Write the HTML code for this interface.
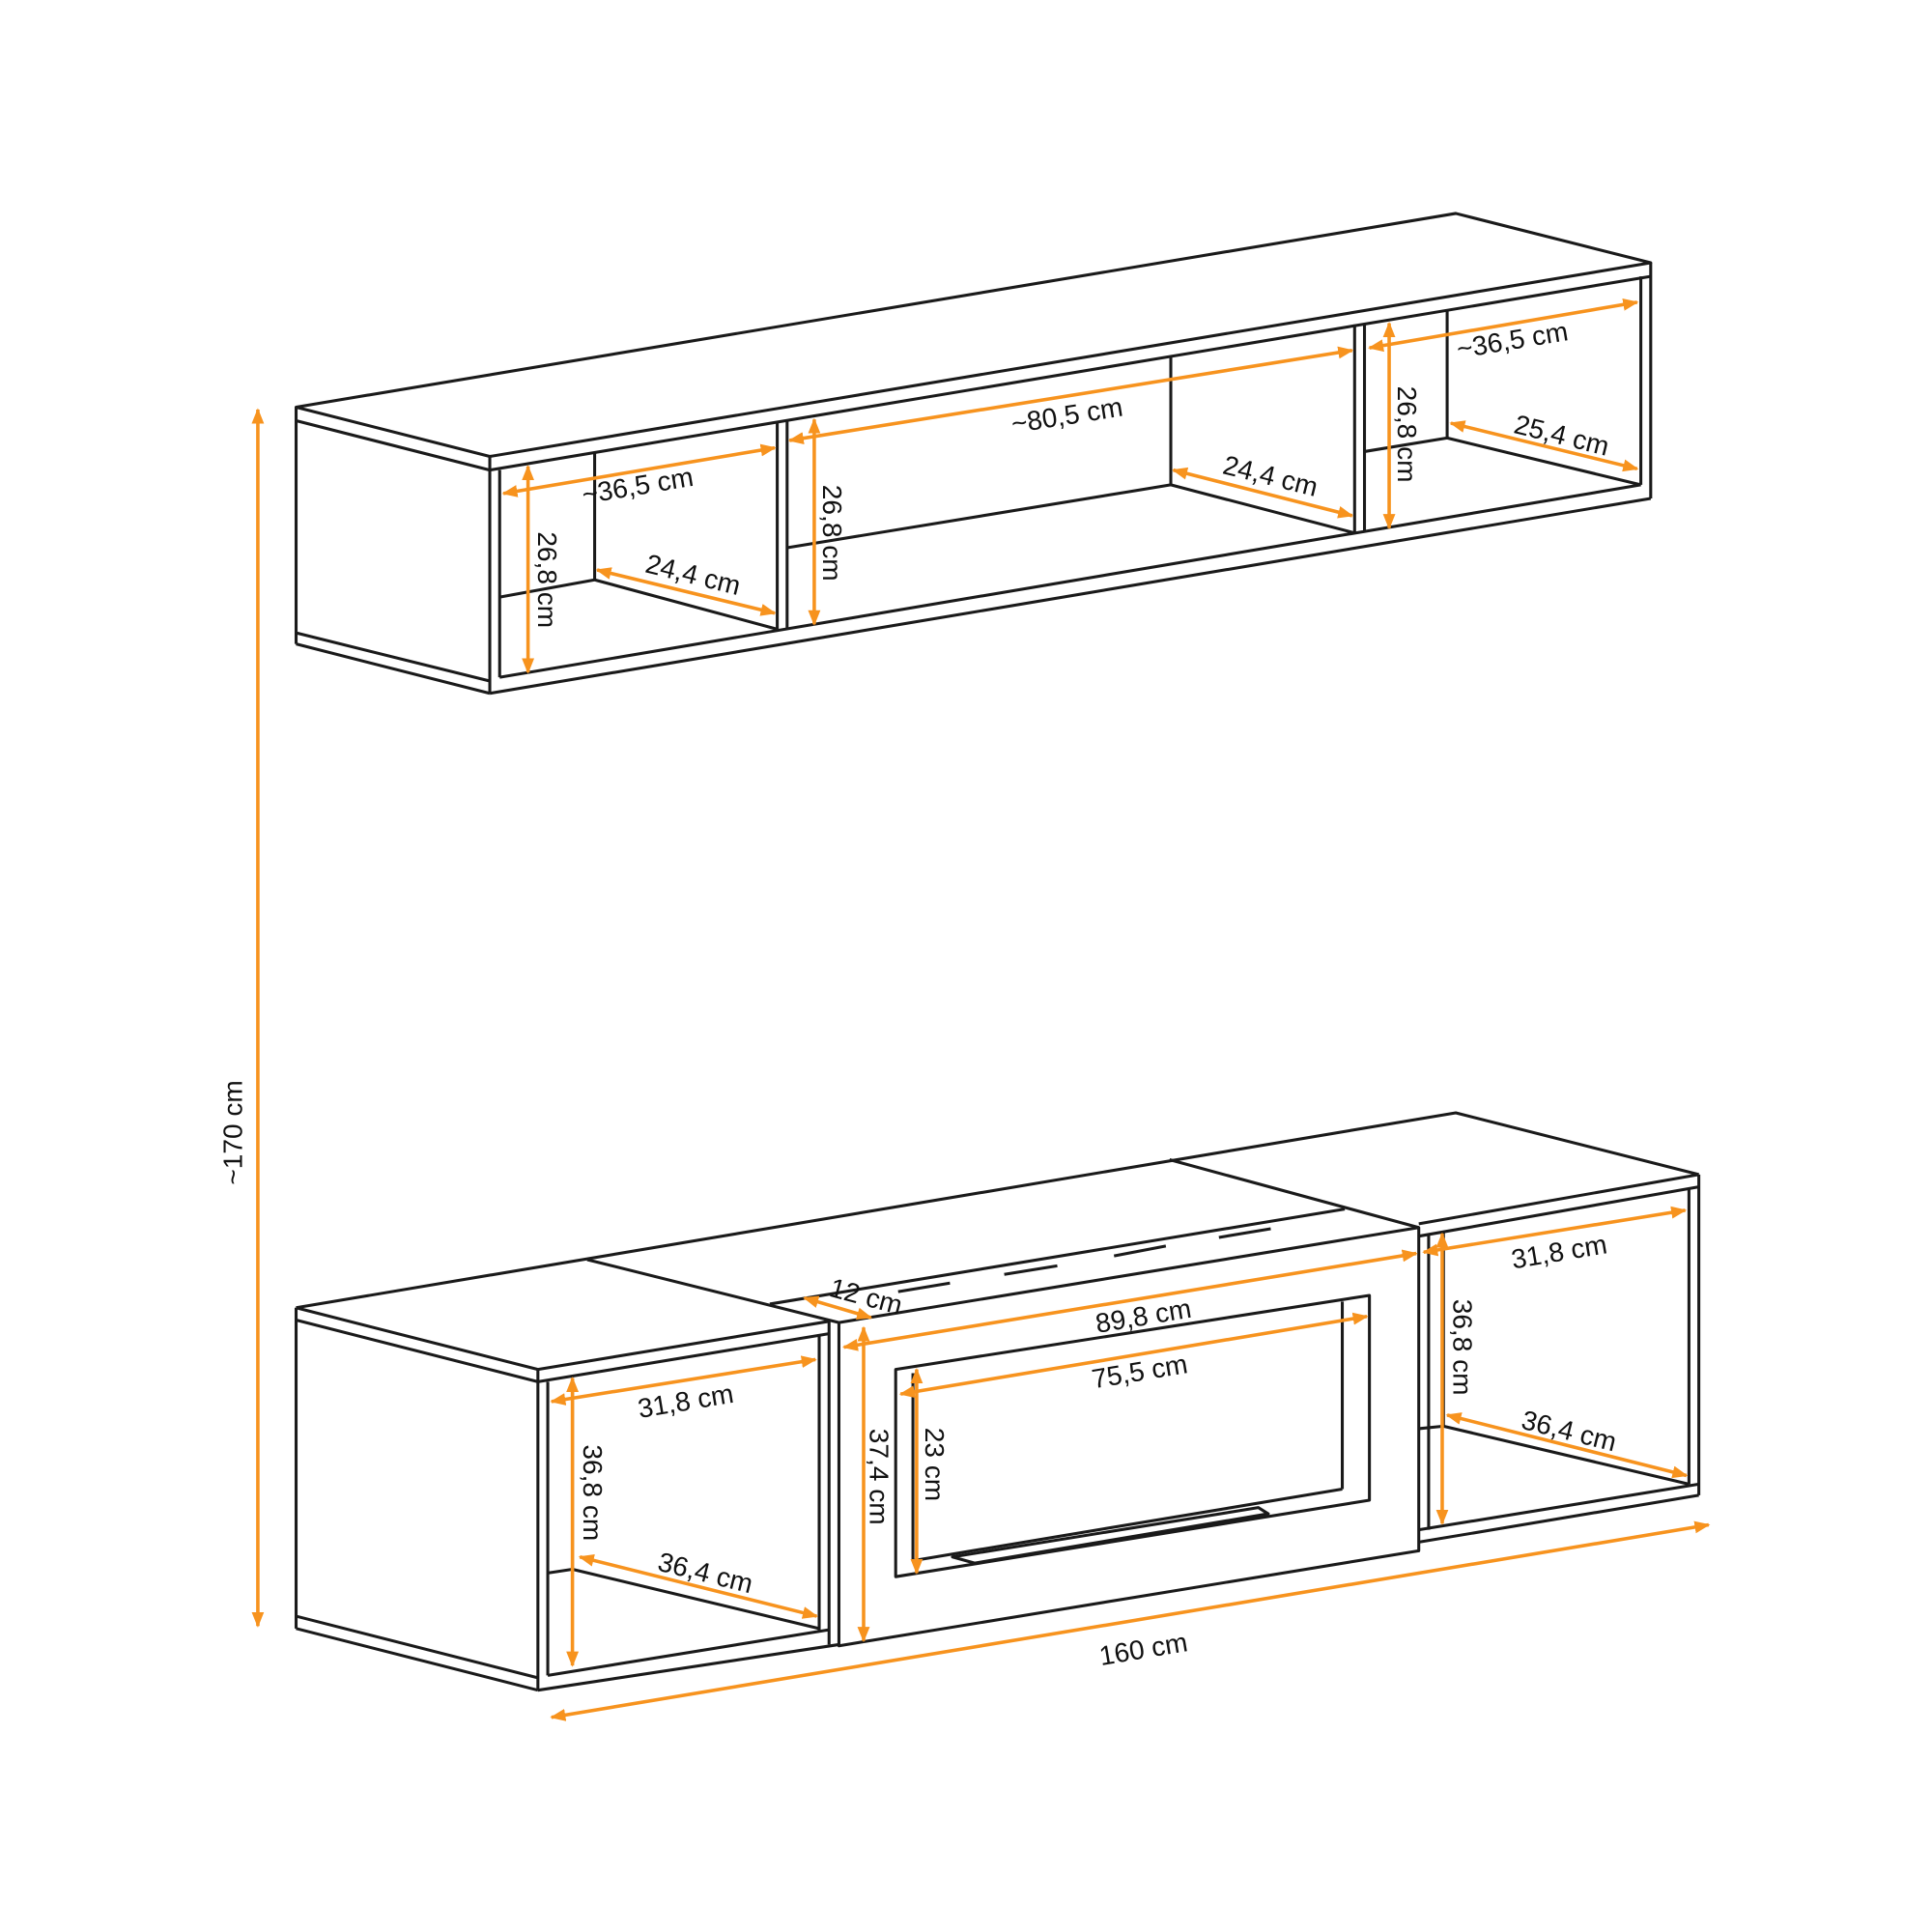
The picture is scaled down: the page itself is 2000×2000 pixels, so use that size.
<!DOCTYPE html>
<html><head><meta charset="utf-8"><style>html,body{margin:0;padding:0;background:#fff}svg{display:block}</style></head>
<body>
<svg width="2000" height="2000" viewBox="0 0 1566 1566" xmlns="http://www.w3.org/2000/svg">
<defs>
<marker id="a" viewBox="0 0 10 10" refX="9" refY="5" markerWidth="4.5" markerHeight="4.5" orient="auto-start-reverse"><path d="M0,1 L10,5 L0,9 z" fill="#f7931e"/></marker>
</defs>
<g fill="none" stroke="#1a1a1a" stroke-width="2.4" stroke-linejoin="round">
<polygon points="240,330 1180,173 1338,213 397,370"/>
<line x1="397" y1="381" x2="1338" y2="224"/>
<line x1="240" y1="341" x2="397" y2="381"/>
<line x1="240" y1="330" x2="240" y2="522"/>
<line x1="240" y1="513" x2="397" y2="552"/>
<line x1="240" y1="522" x2="397" y2="562"/>
<line x1="397" y1="370" x2="397" y2="562"/>
<line x1="1338" y1="213" x2="1338" y2="404"/>
<line x1="405" y1="549" x2="1330" y2="393"/>
<line x1="397" y1="562" x2="1338" y2="404"/>
<line x1="405" y1="381" x2="405" y2="549"/>
<line x1="630" y1="342" x2="630" y2="510"/>
<line x1="638" y1="341" x2="638" y2="509"/>
<line x1="1098" y1="263" x2="1098" y2="432"/>
<line x1="1106" y1="262" x2="1106" y2="431"/>
<line x1="1330" y1="224" x2="1330" y2="393"/>
<line x1="482" y1="367" x2="482" y2="470"/>
<polyline points="405,484 482,470 630,510"/>
<line x1="949" y1="288" x2="949" y2="393"/>
<polyline points="638,444 949,393 1098,432"/>
<line x1="1173" y1="251" x2="1173" y2="355"/>
<polyline points="1106,366 1173,355 1330,393"/>
<polyline points="240,1060 1180,902 1377,952"/>
<line x1="240" y1="1060" x2="436" y2="1110"/>
<line x1="240" y1="1070" x2="436" y2="1120"/>
<line x1="476" y1="1021" x2="680" y2="1072"/>
<line x1="948" y1="940" x2="1150" y2="995"/>
<line x1="624" y1="1057" x2="1090" y2="980"/>
<line x1="436" y1="1110" x2="672" y2="1071"/>
<line x1="436" y1="1120" x2="672" y2="1081"/>
<line x1="240" y1="1060" x2="240" y2="1320"/>
<line x1="436" y1="1110" x2="436" y2="1370"/>
<line x1="240" y1="1310" x2="436" y2="1360"/>
<line x1="240" y1="1320" x2="436" y2="1370"/>
<line x1="444" y1="1358" x2="672" y2="1321"/>
<line x1="436" y1="1370" x2="680" y2="1333"/>
<line x1="444" y1="1120" x2="444" y2="1358"/>
<line x1="664" y1="1082" x2="664" y2="1322"/>
<line x1="672" y1="1071" x2="672" y2="1333"/>
<line x1="464" y1="1117" x2="464" y2="1272"/>
<polyline points="444,1275 464,1272 664,1320"/>
<polygon points="680,1072 1150,995 1150,1257 680,1334"/>
<polygon points="726,1110 1110,1050 1110,1216 726,1278"/>
<line x1="740" y1="1265" x2="1088" y2="1207"/>
<line x1="1088" y1="1055" x2="1088" y2="1207"/>
<line x1="740" y1="1113" x2="740" y2="1265"/>
<polygon points="772,1262 1020,1222 1028,1227 790,1267"/>
<line x1="728" y1="1047" x2="770" y2="1040"/>
<line x1="814" y1="1033" x2="857" y2="1026"/>
<line x1="903" y1="1018" x2="945" y2="1010"/>
<line x1="988" y1="1003" x2="1030" y2="996"/>
<line x1="1150" y1="992" x2="1377" y2="952"/>
<line x1="1150" y1="1002" x2="1377" y2="962"/>
<line x1="1377" y1="952" x2="1377" y2="1212"/>
<line x1="1369" y1="963" x2="1369" y2="1203"/>
<line x1="1150" y1="1240" x2="1377" y2="1203"/>
<line x1="1150" y1="1250" x2="1377" y2="1212"/>
<line x1="1158" y1="1000" x2="1158" y2="1240"/>
<line x1="1170" y1="998" x2="1170" y2="1156"/>
<polyline points="1150,1158 1170,1156 1369,1203"/>
</g>
<g stroke="#f7931e" stroke-width="2.8" marker-start="url(#a)" marker-end="url(#a)">
<line x1="209" y1="332" x2="209" y2="1318"/>
<line x1="408" y1="400" x2="628" y2="363"/>
<line x1="428" y1="378" x2="428" y2="545"/>
<line x1="484" y1="462" x2="628" y2="497"/>
<line x1="640" y1="357" x2="1096" y2="284"/>
<line x1="660" y1="340" x2="660" y2="506"/>
<line x1="951" y1="381" x2="1096" y2="418"/>
<line x1="1110" y1="282" x2="1327" y2="245"/>
<line x1="1126" y1="262" x2="1126" y2="428"/>
<line x1="1176" y1="343" x2="1327" y2="380"/>
<line x1="447" y1="1392" x2="1385" y2="1236"/>
<line x1="447" y1="1136" x2="661" y2="1102"/>
<line x1="464" y1="1117" x2="464" y2="1350"/>
<line x1="470" y1="1262" x2="662" y2="1310"/>
<line x1="652" y1="1052" x2="706" y2="1068"/>
<line x1="684" y1="1092" x2="1148" y2="1016"/>
<line x1="700" y1="1076" x2="700" y2="1330"/>
<line x1="730" y1="1130" x2="1108" y2="1067"/>
<line x1="743" y1="1110" x2="743" y2="1275"/>
<line x1="1154" y1="1015" x2="1366" y2="981"/>
<line x1="1169" y1="1000" x2="1169" y2="1235"/>
<line x1="1173" y1="1147" x2="1367" y2="1196"/>
</g>
<g font-family="Liberation Sans, sans-serif" font-size="22" fill="#111" text-anchor="middle">
<text transform="translate(196,918) rotate(-90)">~170 cm</text>
<text transform="translate(518,401) rotate(-9.5)">~36,5 cm</text>
<text transform="translate(436,470) rotate(90)">26,8 cm</text>
<text transform="translate(560,473) rotate(14)">24,4 cm</text>
<text transform="translate(866,344) rotate(-9)">~80,5 cm</text>
<text transform="translate(667,432) rotate(90)">26,8 cm</text>
<text transform="translate(1028,393) rotate(14)">24,4 cm</text>
<text transform="translate(1227,283) rotate(-9.5)">~36,5 cm</text>
<text transform="translate(1133,352) rotate(90)">26,8 cm</text>
<text transform="translate(1264,360) rotate(14)">25,4 cm</text>
<text transform="translate(928,1344) rotate(-9.5)">160 cm</text>
<text transform="translate(557,1143) rotate(-9.5)">31,8 cm</text>
<text transform="translate(473,1210) rotate(90)">36,8 cm</text>
<text transform="translate(570,1282) rotate(14)">36,4 cm</text>
<text transform="translate(700,1058) rotate(15)">12 cm</text>
<text transform="translate(928,1074) rotate(-9.5)">89,8 cm</text>
<text transform="translate(705,1197) rotate(90)">37,4 cm</text>
<text transform="translate(925,1119) rotate(-9.5)">75,5 cm</text>
<text transform="translate(750,1187) rotate(90)">23 cm</text>
<text transform="translate(1265,1022) rotate(-9.5)">31,8 cm</text>
<text transform="translate(1178,1092) rotate(90)">36,8 cm</text>
<text transform="translate(1270,1167) rotate(14)">36,4 cm</text>
</g>
</svg>
</body></html>
